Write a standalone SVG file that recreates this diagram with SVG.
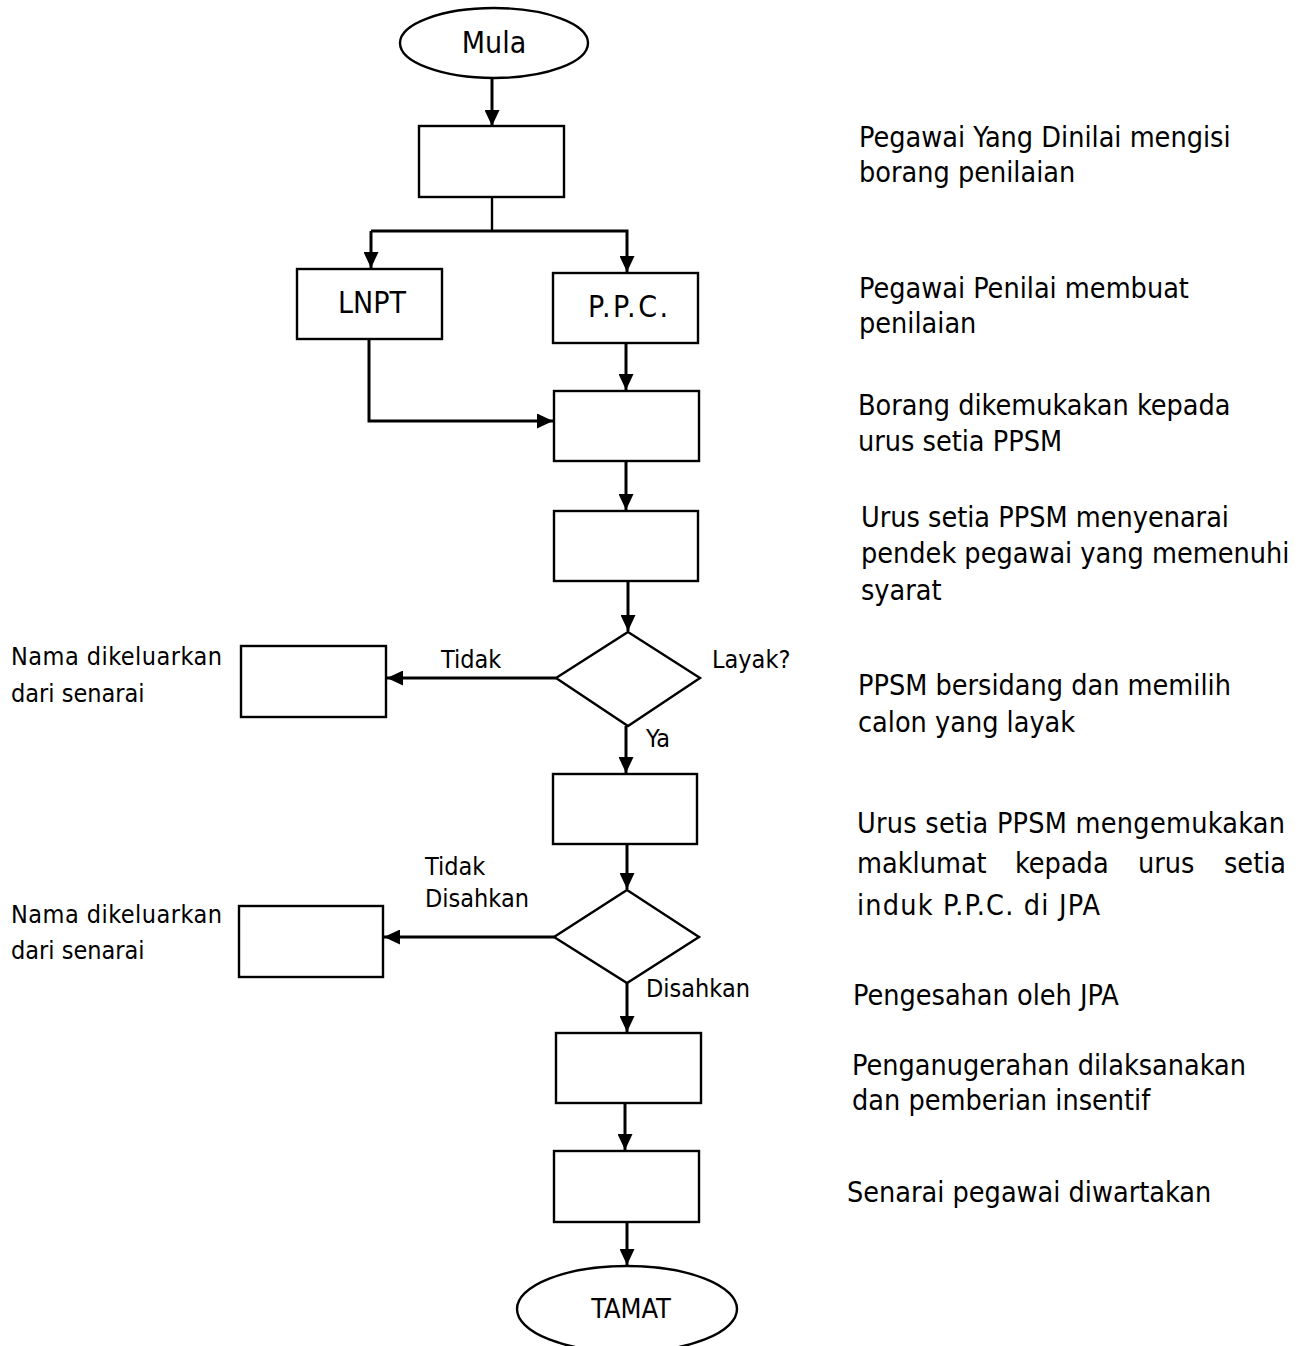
<svg xmlns="http://www.w3.org/2000/svg" width="1299" height="1346" viewBox="0 0 1299 1346">
<defs>
<marker id="ah" viewBox="0 0 16 15" refX="16" refY="7.5" markerWidth="16" markerHeight="15" markerUnits="userSpaceOnUse" orient="auto">
<path d="M0,0 L16,7.5 L0,15 z" fill="#000"/>
</marker>
<style>
.shape{fill:#fff;stroke:#000;stroke-width:2.4}
.line{fill:none;stroke:#000;stroke-width:2.4}
.arr{fill:none;stroke:#000;stroke-width:3;marker-end:url(#ah)}
text{font-family:"DejaVu Sans Condensed","DejaVu Sans",Verdana,sans-serif;fill:#000}
.big{font-size:30px;text-anchor:middle}
.lbl{font-size:25px}
.desc{font-size:28.5px}
</style>
</defs>
<rect width="1299" height="1346" fill="#fff"/>

<g id="connectors">
<line class="arr" x1="492" y1="79" x2="492" y2="126"/>
<polyline class="line" points="492,197 492,231"/>
<polyline class="arr" points="371,231 627,231 627,272"/>
<polyline class="arr" points="371,231 371,268"/>
<line class="arr" x1="626" y1="343" x2="626" y2="390"/>
<polyline class="arr" points="369,339 369,421 553,421"/>
<line class="arr" x1="626" y1="461" x2="626" y2="510"/>
<line class="arr" x1="628" y1="581" x2="628" y2="631"/>
<line class="arr" x1="556" y1="678" x2="387" y2="678"/>
<line class="arr" x1="626" y1="726" x2="626" y2="773"/>
<line class="arr" x1="627" y1="844" x2="627" y2="889"/>
<line class="arr" x1="554" y1="937" x2="384" y2="937"/>
<line class="arr" x1="627" y1="983" x2="627" y2="1032"/>
<line class="arr" x1="625" y1="1103" x2="625" y2="1150"/>
<line class="arr" x1="627" y1="1222" x2="627" y2="1265"/>
</g>

<g id="mula">
<ellipse class="shape" cx="494" cy="43" rx="94" ry="35"/>
<text class="big" x="494" y="53">Mula</text>
</g>
<g id="step1"><rect class="shape" x="419" y="126" width="145" height="71"/></g>
<g id="lnpt">
<rect class="shape" x="297" y="269" width="145" height="70"/>
<text class="big" x="372" y="313">LNPT</text>
</g>
<g id="ppc">
<rect class="shape" x="553" y="273" width="145" height="70"/>
<text class="big" x="628" y="317" textLength="80">P.P.C.</text>
</g>
<g id="step3"><rect class="shape" x="554" y="391" width="145" height="70"/></g>
<g id="step4"><rect class="shape" x="554" y="511" width="144" height="70"/></g>
<g id="decision1">
<polygon class="shape" points="628,632 700,678 628,726 556,678"/>
</g>
<g id="reject1"><rect class="shape" x="241" y="646" width="145" height="71"/></g>
<g id="step5"><rect class="shape" x="553" y="774" width="144" height="70"/></g>
<g id="decision2">
<polygon class="shape" points="627,890 699,937 627,983 554,937"/>
</g>
<g id="reject2"><rect class="shape" x="239" y="906" width="144" height="71"/></g>
<g id="step6"><rect class="shape" x="556" y="1033" width="145" height="70"/></g>
<g id="step7"><rect class="shape" x="554" y="1151" width="145" height="71"/></g>
<g id="tamat">
<ellipse class="shape" cx="627" cy="1309" rx="110" ry="43"/>
<text x="631" y="1318" style="font-size:27px;text-anchor:middle">TAMAT</text>
</g>

<g id="labels">
<text class="lbl" x="11" y="665" textLength="211">Nama dikeluarkan</text>
<text class="lbl" x="11" y="702">dari senarai</text>
<text class="lbl" x="441" y="668">Tidak</text>
<text class="lbl" x="712" y="668">Layak?</text>
<text class="lbl" x="646" y="747">Ya</text>
<text class="lbl" x="425" y="875">Tidak</text>
<text class="lbl" x="425" y="907">Disahkan</text>
<text class="lbl" x="11" y="923" textLength="211">Nama dikeluarkan</text>
<text class="lbl" x="11" y="959">dari senarai</text>
<text class="lbl" x="646" y="997">Disahkan</text>
</g>

<g id="descriptions">
<text class="desc" x="859" y="147">Pegawai Yang Dinilai mengisi</text>
<text class="desc" x="859" y="182">borang penilaian</text>
<text class="desc" x="859" y="298">Pegawai Penilai membuat</text>
<text class="desc" x="859" y="333">penilaian</text>
<text class="desc" x="858" y="415">Borang dikemukakan kepada</text>
<text class="desc" x="858" y="451">urus setia PPSM</text>
<text class="desc" x="861" y="527">Urus setia PPSM menyenarai</text>
<text class="desc" x="861" y="563">pendek pegawai yang memenuhi</text>
<text class="desc" x="861" y="600">syarat</text>
<text class="desc" x="858" y="695">PPSM bersidang dan memilih</text>
<text class="desc" x="858" y="732">calon yang layak</text>
<text class="desc" x="857" y="833" textLength="428">Urus setia PPSM mengemukakan</text>
<text class="desc" x="857" y="873">maklumat</text>
<text class="desc" x="1015" y="873">kepada</text>
<text class="desc" x="1138" y="873">urus</text>
<text class="desc" x="1224" y="873">setia</text>
<text class="desc" x="857" y="915" textLength="243">induk P.P.C. di JPA</text>
<text class="desc" x="853" y="1005">Pengesahan oleh JPA</text>
<text class="desc" x="852" y="1075">Penganugerahan dilaksanakan</text>
<text class="desc" x="852" y="1110">dan pemberian insentif</text>
<text class="desc" x="847" y="1202">Senarai pegawai diwartakan</text>
</g>
</svg>
